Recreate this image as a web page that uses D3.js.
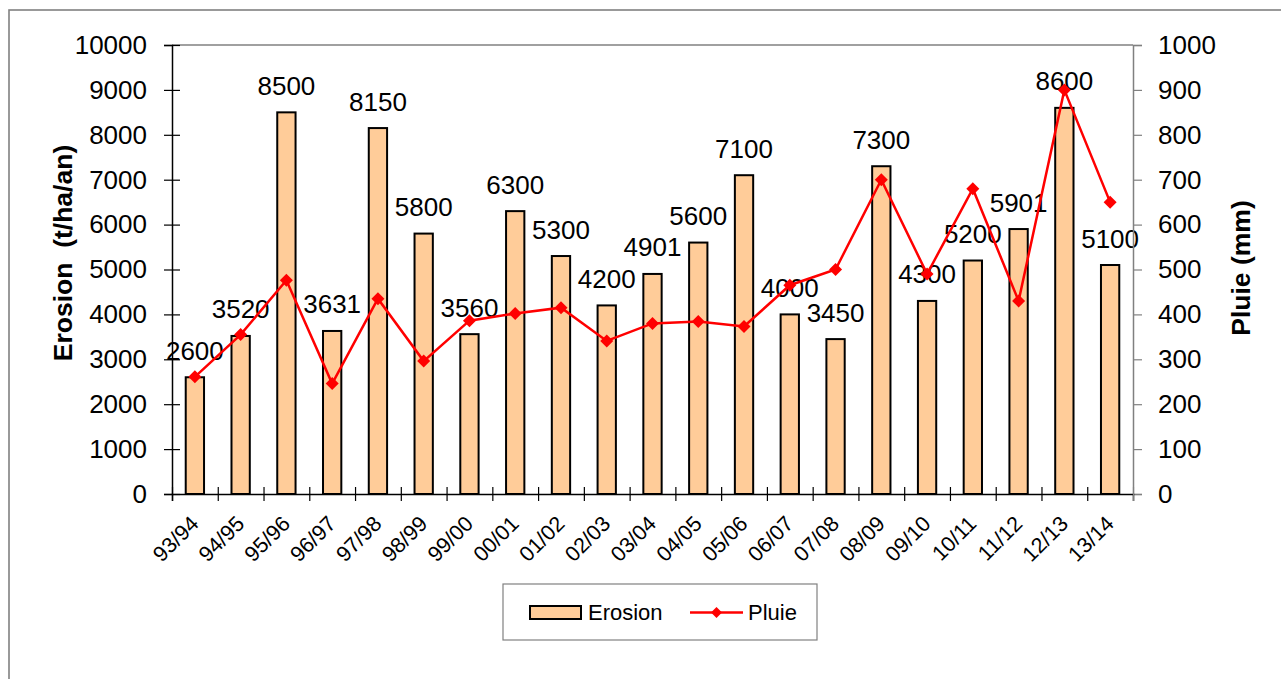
<!DOCTYPE html>
<html>
<head>
<meta charset="utf-8">
<script src="https://cdn.jsdelivr.net/npm/d3@7"></script>
<style>
  html, body { margin: 0; padding: 0; background: #fff; }
  svg { display: block; font-family: "Liberation Sans", Arial, sans-serif; }
</style>
</head>
<body>
<svg id="chart" width="1281" height="679"></svg>
<script>
// Seasons, soil loss (t/ha/an) and rainfall (mm)
const seasons = ["93/94","94/95","95/96","96/97","97/98","98/99","99/00","00/01","01/02","02/03",
                 "03/04","04/05","05/06","06/07","07/08","08/09","09/10","10/11","11/12","12/13","13/14"];
const erosion = [2600, 3520, 8500, 3631, 8150, 5800, 3560, 6300, 5300, 4200,
                 4901, 5600, 7100, 4000, 3450, 7300, 4300, 5200, 5901, 8600, 5100];
const pluie = [261, 355, 476, 246, 435, 296, 386, 402, 415, 341,
               380, 384, 373, 465, 500, 700, 490, 680, 430, 900, 650];
const erosionTicks = [0, 1000, 2000, 3000, 4000, 5000, 6000, 7000, 8000, 9000, 10000];
const pluieTicks = [0, 100, 200, 300, 400, 500, 600, 700, 800, 900, 1000];

const svg = d3.select("#chart");
const plotLeft = 172, plotRight = 1133, plotTop = 45, plotBottom = 494;
const barFill = "#FFCC99";
const red = "#FF0000";
const fmt = d3.format("d");

// outer frame
svg.append("rect")
  .attr("x", 9).attr("y", 10).attr("width", 1300).attr("height", 700)
  .attr("fill", "none").attr("stroke", "#808080").attr("stroke-width", 1.6);

const x = d3.scaleBand().domain(seasons).range([plotLeft, plotRight])
  .paddingInner(0.6).paddingOuter(0.3);
const xEdge = d3.scaleLinear().domain([0, seasons.length]).range([plotLeft, plotRight]);
const yL = d3.scaleLinear().domain([0, 10000]).range([plotBottom, plotTop]);
const yR = d3.scaleLinear().domain([0, 1000]).range([plotBottom, plotTop]);

// plot area top edge
svg.append("line")
  .attr("x1", plotLeft).attr("x2", plotRight).attr("y1", plotTop).attr("y2", plotTop)
  .attr("stroke", "#808080").attr("stroke-width", 1.3);

// bars
svg.append("g").selectAll("rect").data(seasons).join("rect")
  .attr("x", d => x(d))
  .attr("y", (d, i) => yL(erosion[i]))
  .attr("width", x.bandwidth())
  .attr("height", (d, i) => plotBottom - yL(erosion[i]))
  .attr("fill", barFill).attr("stroke", "#000").attr("stroke-width", 2);

// value labels above bars
svg.append("g").selectAll("text").data(seasons).join("text")
  .attr("x", d => x(d) + x.bandwidth() / 2)
  .attr("y", (d, i) => yL(erosion[i]) - 17.5)
  .attr("text-anchor", "middle")
  .attr("font-size", 26)
  .attr("fill", "#000")
  .text((d, i) => erosion[i]);

// left axis
const gL = svg.append("g").attr("transform", `translate(${plotLeft},0)`)
  .call(d3.axisLeft(yL).tickValues(erosionTicks).tickFormat(fmt).tickSize(8).tickPadding(0));
gL.select(".domain").attr("stroke", "#000").attr("stroke-width", 1.5);
gL.selectAll(".tick line").attr("x1", -8).attr("x2", 8).attr("stroke", "#000").attr("stroke-width", 1.2);
gL.selectAll(".tick text").attr("x", -25).attr("font-size", 26)
  .attr("font-family", "Liberation Sans, Arial, sans-serif").attr("fill", "#000");

// right axis
const gR = svg.append("g").attr("transform", `translate(${plotRight},0)`)
  .call(d3.axisRight(yR).tickValues(pluieTicks).tickFormat(fmt).tickSize(9).tickPadding(0));
gR.select(".domain").attr("stroke", "#808080").attr("stroke-width", 1.5);
gR.selectAll(".tick line").attr("stroke", "#808080").attr("stroke-width", 1.2);
gR.selectAll(".tick text").attr("x", 25).attr("font-size", 26)
  .attr("font-family", "Liberation Sans, Arial, sans-serif").attr("fill", "#000");

// bottom axis: ticks at category boundaries, labels under each category
const gB = svg.append("g").attr("transform", `translate(0,${plotBottom})`)
  .call(d3.axisBottom(xEdge).tickValues(d3.range(0, seasons.length + 1)).tickSize(7).tickFormat(""));
gB.select(".domain").attr("stroke", "#000").attr("stroke-width", 1.5);
gB.selectAll(".tick line").attr("y1", -7).attr("y2", 7).attr("stroke", "#000").attr("stroke-width", 1.2);
gB.selectAll(".tick").filter(d => d === seasons.length).select("line").attr("stroke", "#808080");

svg.append("g").selectAll("text").data(seasons).join("text")
  .attr("transform", d => `translate(${x(d) + x.bandwidth() / 2 + 5},${plotBottom + 31}) rotate(-45)`)
  .attr("text-anchor", "end")
  .attr("font-size", 21.5)
  .attr("fill", "#000")
  .text(d => d);

// rainfall line with diamond markers
const line = d3.line()
  .x((d, i) => x(seasons[i]) + x.bandwidth() / 2)
  .y(d => yR(d));
svg.append("path").datum(pluie)
  .attr("d", line).attr("fill", "none").attr("stroke", red).attr("stroke-width", 2.5);
svg.append("g").selectAll("path").data(pluie).join("path")
  .attr("transform", (d, i) => `translate(${x(seasons[i]) + x.bandwidth() / 2},${yR(d)})`)
  .attr("d", "M0,-6.5L6.5,0L0,6.5L-6.5,0Z")
  .attr("fill", red);

// axis titles
svg.append("text")
  .attr("transform", "translate(72,253) rotate(-90)")
  .attr("text-anchor", "middle").attr("font-size", 26.5).attr("font-weight", "bold")
  .attr("xml:space", "preserve").style("white-space", "pre")
  .text("Erosion  (t/ha/an)");
svg.append("text")
  .attr("transform", "translate(1250,268) rotate(-90)")
  .attr("text-anchor", "middle").attr("font-size", 26.5).attr("font-weight", "bold")
  .text("Pluie (mm)");

// legend
const lg = svg.append("g");
lg.append("rect").attr("x", 503).attr("y", 584).attr("width", 314).attr("height", 56)
  .attr("fill", "#fff").attr("stroke", "#808080").attr("stroke-width", 1.2);
lg.append("rect").attr("x", 530).attr("y", 606).attr("width", 51).attr("height", 13)
  .attr("fill", barFill).attr("stroke", "#000").attr("stroke-width", 2);
lg.append("text").attr("x", 588).attr("y", 620).attr("font-size", 22).text("Erosion");
lg.append("line").attr("x1", 690).attr("x2", 743).attr("y1", 612.5).attr("y2", 612.5)
  .attr("stroke", red).attr("stroke-width", 2.5);
lg.append("path").attr("transform", "translate(716.5,612.5)")
  .attr("d", "M0,-5.5L5.5,0L0,5.5L-5.5,0Z").attr("fill", red);
lg.append("text").attr("x", 748).attr("y", 620).attr("font-size", 22).text("Pluie");
</script>
</body>
</html>
